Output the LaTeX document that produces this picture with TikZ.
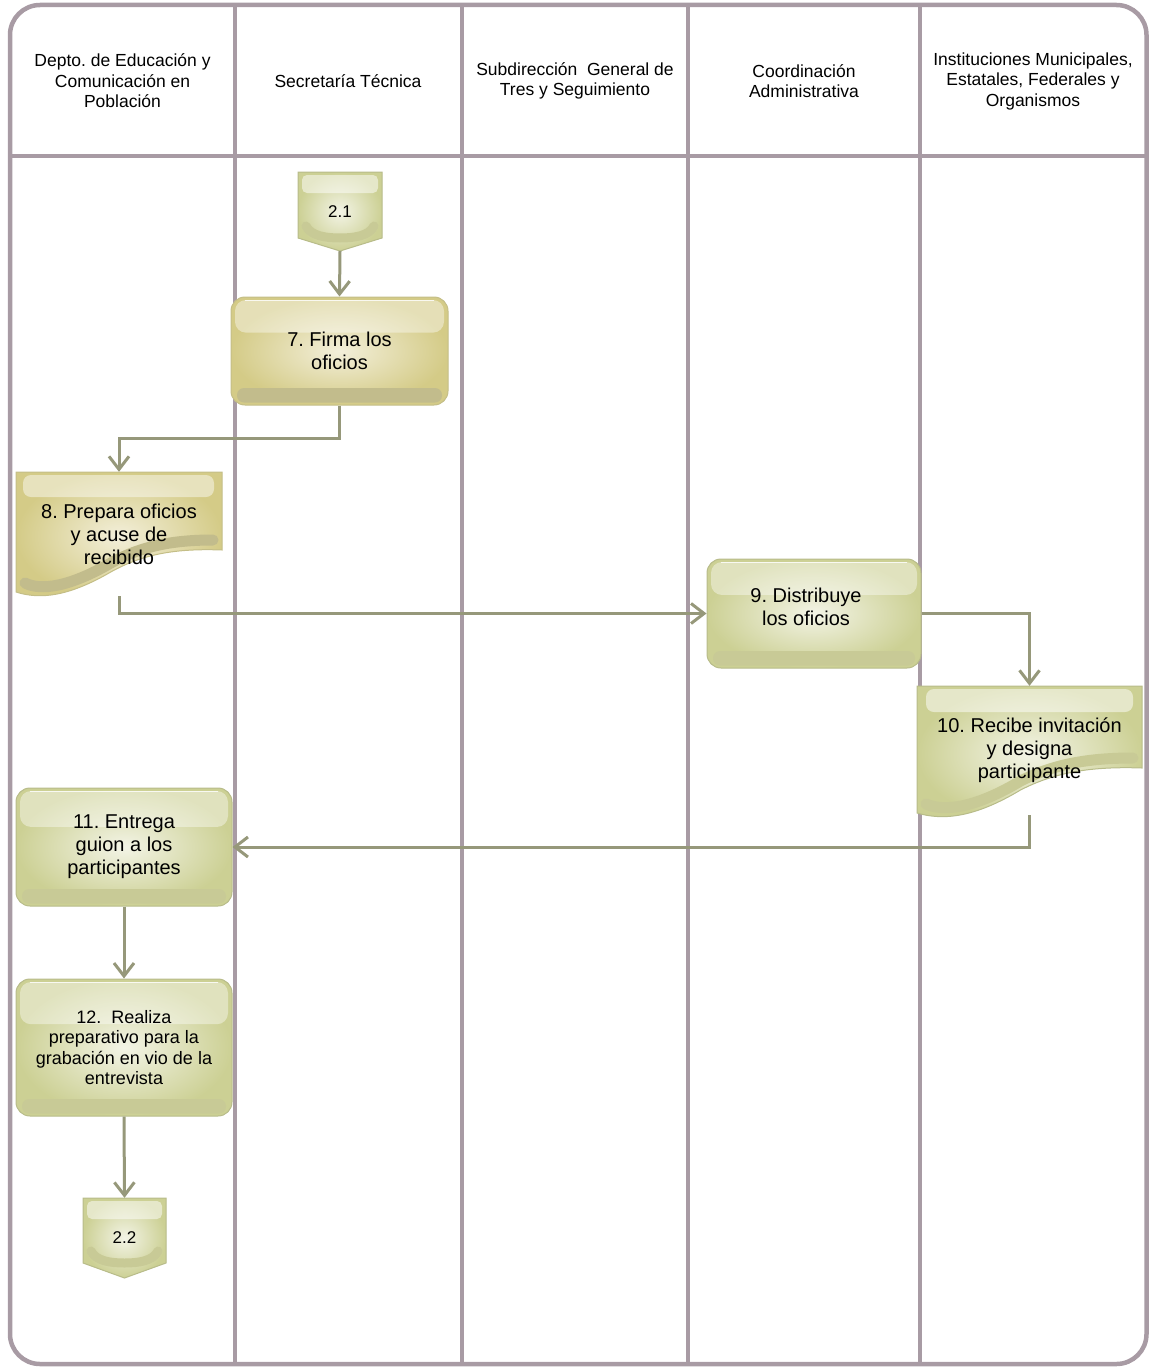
\documentclass[tikz,border=0pt]{standalone}
\usepackage{fontspec}
\setmainfont{Liberation Sans}
\usetikzlibrary{arrows.meta,calc}
\frenchspacing
\definecolor{laneC}{RGB}{168,155,164}
\definecolor{lineC}{RGB}{150,152,122}
\definecolor{khakiBase}{RGB}{212,203,135}
\definecolor{khakiLight}{RGB}{243,239,218}
\definecolor{khakiBand}{RGB}{194,188,140}
\definecolor{khakiBorder}{RGB}{196,190,135}
\definecolor{greenBase}{RGB}{204,208,148}
\definecolor{greenLight}{RGB}{243,244,230}
\definecolor{greenBand}{RGB}{200,202,150}
\definecolor{greenBorder}{RGB}{184,188,138}
\pgfdeclarelayer{lanes}
\pgfdeclarelayer{shp}
\pgfsetlayers{lanes,shp,main}
% document shape: x0, x1, ytop, yright-bottom, yleft-bottom
\newcommand\docpath[5]{(#1,#3) -- (#2,#3) -- (#2,#4) .. controls ({#2-0.25*(#2-#1)},{#4-2}) and ({#2-0.4*(#2-#1)},{#4+6}) .. ({#1+0.46*(#2-#1)},{#4+22}) .. controls ({#1+0.26*(#2-#1)},{#5+4}) and ({#1+0.12*(#2-#1)},{#5+8}) .. (#1,#5) -- cycle}
\newcommand\docband[5]{(#1+9,#5-9) .. controls ({#1+0.12*(#2-#1)},{#5-1}) and ({#1+0.26*(#2-#1)},{#5-5}) .. ({#1+0.46*(#2-#1)},{#4+13}) .. controls ({#2-0.4*(#2-#1)},{#4-3}) and ({#2-0.25*(#2-#1)},{#4-10}) .. (#2-9,#4-10)}
% off-page connector: x0, x1, ytop, yside, ytip
\newcommand\offpath[5]{(#1,#3) -- (#2,#3) -- (#2,#4) -- ({(#1+#2)/2},#5) -- (#1,#4) -- cycle}
\newcommand\offband[5]{(#1+8,#4-12) .. controls (#1+13,#4-2) and ({(#1+#2)/2-14},#4) .. ({(#1+#2)/2},#4) .. controls ({(#1+#2)/2+14},#4) and (#2-13,#4-2) .. (#2-8,#4-12)}
\begin{document}
\begin{tikzpicture}[x=1pt,y=-1pt,
  hdr/.style={align=center,font=\fontsize{17.5}{20.5}\selectfont,inner sep=0pt},
  proc/.style={rounded corners=14pt,draw=#1Border,line width=1pt,inner color=#1Light,outer color=#1Base,
    align=center,inner sep=0pt,font=\fontsize{20}{23}\selectfont,
    path picture={
      \fill[#1Band,rounded corners=7pt] ($(path picture bounding box.south west)+(6pt,2.5pt)$) rectangle ($(path picture bounding box.south east)+(-6pt,17pt)$);
      \fill[white,opacity=0.4,rounded corners=11pt] ($(path picture bounding box.north west)+(4pt,-3pt)$) rectangle ($(path picture bounding box.north east)!0.33!(path picture bounding box.south east)+(-4pt,0pt)$);
      \draw[white,line width=1.5pt,opacity=0.8] ($(path picture bounding box.north west)+(14pt,-3.5pt)$) -- ($(path picture bounding box.north east)+(-14pt,-3.5pt)$);
    }},
  docnode/.style={inner sep=0pt,align=center,font=\fontsize{20}{23}\selectfont},
  offnode/.style={inner sep=0pt,align=center,font=\fontsize{17}{20}\selectfont},
  conn/.style={draw=lineC,line width=3pt,-{Straight Barb[length=13pt,width=20pt]}},
  lane/.style={draw=laneC,line width=4.5pt}
]
\useasboundingbox (0,0) rectangle (1148,1370);

% ---- swimlane frame ----
\begin{pgfonlayer}{lanes}
\draw[lane,rounded corners=30pt] (10,5) rectangle (1146.5,1364);
\draw[lane] (235,5) -- (235,1364);
\draw[lane] (462,5) -- (462,1364);
\draw[lane] (688,5) -- (688,1364);
\draw[lane] (920,5) -- (920,1364);
\draw[lane] (10,156) -- (1146.5,156);
\end{pgfonlayer}

% ---- headers ----
\node[hdr] (h1) at (122.5,81) {Depto. de Educación y\\Comunicación en\\Población};
\node[hdr] (h2) at (348,81) {Secretaría Técnica};
\node[hdr] (h3) at (575,81) {Subdirección\ \ General de\\Tres y Seguimiento};
\node[hdr] (h4) at (804,81) {Coordinación\\Administrativa};
\node[hdr] (h5) at (1033,81) {Instituciones Municipales,\\Estatales, Federales y\\Organismos};

% ---- 2.1 off-page connector ----
\node[offnode,minimum width=84pt,minimum height=79pt] (n21) at (340,211.5) {2.1};
\begin{pgfonlayer}{shp}
\path[draw=greenBorder,line width=1pt,inner color=greenLight,outer color=greenBase] \offpath{298}{382}{172}{238}{251};
\begin{scope}
\clip \offpath{298}{382}{172}{238}{251};
\fill[white,opacity=0.5,rounded corners=5pt] (302,175) rectangle (378,193);
\draw[greenBand,line width=9pt,line cap=round] \offband{298}{382}{172}{238}{251};
\end{scope}
\end{pgfonlayer}

% ---- 7 ----
\node[proc=khaki,minimum width=217pt,minimum height=108pt] (n7) at (339.5,351) {7. Firma los\\oficios};

% ---- 8 (document) ----
\node[docnode,minimum width=206pt,minimum height=124pt] (n8) at (119,534) {8. Prepara oficios\\y acuse de\\recibido};
\begin{pgfonlayer}{shp}
\path[draw=khakiBorder,line width=1pt,inner color=khakiLight,outer color=khakiBase] \docpath{16}{222}{472}{550}{592};
\begin{scope}
\clip \docpath{16}{222}{472}{550}{592};
\draw[khakiBand,line width=11pt,line cap=round] \docband{16}{222}{472}{550}{592};
\fill[white,opacity=0.45,rounded corners=8pt] (23,475) rectangle (214,497);
\end{scope}
\end{pgfonlayer}

% ---- 9 ----
\node[proc=green,minimum width=214pt,minimum height=109pt] (n9) at (814,613.5)
  {\raisebox{0pt}[\height][\dimexpr\depth+9pt\relax]{\hspace*{-16pt}\begin{tabular}{@{}c@{}}9. Distribuye\\los oficios\end{tabular}}};

% ---- 10 (document) ----
\node[docnode,minimum width=225pt,minimum height=129pt] (n10) at (1029.5,750.5) {10. Recibe invitación\\y designa\\participante};
\begin{pgfonlayer}{shp}
\path[draw=greenBorder,line width=1pt,inner color=greenLight,outer color=greenBase] \docpath{917}{1142}{686}{768}{813};
\begin{scope}
\clip \docpath{917}{1142}{686}{768}{813};
\draw[greenBand,line width=11pt,line cap=round] \docband{917}{1142}{686}{768}{813};
\fill[white,opacity=0.5,rounded corners=8pt] (926,689) rectangle (1133,712);
\end{scope}
\end{pgfonlayer}

% ---- 11 ----
\node[proc=green,minimum width=216pt,minimum height=118pt] (n11) at (124,847) {11. Entrega\\guion a los\\participantes};

% ---- 12 ----
\node[proc=green,minimum width=216pt,minimum height=137pt,font=\fontsize{18}{20.5}\selectfont] (n12) at (124,1047.5)
  {12.\ \ Realiza\\preparativo para la\\grabación en vio de la\\entrevista};

% ---- 2.2 off-page connector ----
\node[offnode,minimum width=83pt,minimum height=80pt] (n22) at (124.5,1238) {2.2};
\begin{pgfonlayer}{shp}
\path[draw=greenBorder,line width=1pt,inner color=greenLight,outer color=greenBase] \offpath{83}{166}{1198}{1263}{1278};
\begin{scope}
\clip \offpath{83}{166}{1198}{1263}{1278};
\fill[white,opacity=0.5,rounded corners=5pt] (87,1201) rectangle (162,1219);
\draw[greenBand,line width=9pt,line cap=round] \offband{83}{166}{1198}{1263}{1278};
\end{scope}
\end{pgfonlayer}

% ---- connectors ----
\draw[conn] (n21.south) -- (n7.north);
\draw[conn] (n7.south) -- ++(0,33) -| (n8.north);
\draw[conn] (n8.south) |- (n9.west);
\draw[conn] (n9.east) -| (n10.north);
\draw[conn] (n10.south) |- (n11.east);
\draw[conn] (n11.south) -- (n12.north);
\draw[conn] (n12.south) -- (n22.north);
\end{tikzpicture}
\end{document}
